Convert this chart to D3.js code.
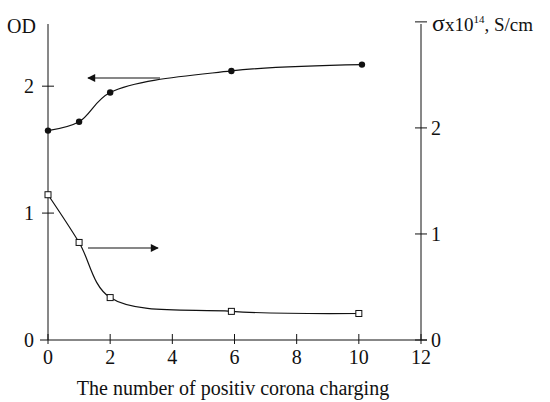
<!DOCTYPE html>
<html>
<head>
<meta charset="utf-8">
<script src="https://cdn.jsdelivr.net/npm/d3@7"></script>
<style>
  body { margin: 0; background: #fff; }
  text { font-family: "Liberation Serif", "Times New Roman", serif; fill: #111; }
</style>
</head>
<body>
<svg id="chart" width="550" height="402"></svg>
<script>
const width = 550;
const height = 402;

// charging count
const charges = [0, 1, 2, 5.9, 10.1];
// optical density (left axis, filled circles)
const odValues = [1.65, 1.72, 1.95, 2.12, 2.17];
// conductivity x1e14 S/cm (right axis, open squares)
const sigmaCharges = [0, 1, 2, 5.9, 10];
const sigmaValues = [1.37, 0.92, 0.40, 0.27, 0.25];

const xTicks = [0, 2, 4, 6, 8, 10, 12];
const odTicks = [0, 1, 2];
const sigmaTicks = [0, 1, 2, 3];

const svg = d3.select("#chart");

const x = d3.scaleLinear().domain([0, 12]).range([48, 421]);
const yL = d3.scaleLinear().domain([0, 2.49]).range([340, 24]);
const yR = d3.scaleLinear().domain([0, 2.98]).range([340, 24]);

const ink = "#111";

// axes lines
svg.append("line").attr("x1", x(0)).attr("x2", x(0)).attr("y1", 24).attr("y2", 340)
  .attr("stroke", ink).attr("stroke-width", 1);
svg.append("line").attr("x1", x(12)).attr("x2", x(12)).attr("y1", 24).attr("y2", 340)
  .attr("stroke", ink).attr("stroke-width", 1);
svg.append("line").attr("x1", x(0) - 8).attr("x2", x(12) + 6).attr("y1", 340).attr("y2", 340)
  .attr("stroke", ink).attr("stroke-width", 1);

// x ticks
svg.append("g").selectAll("line").data(xTicks).join("line")
  .attr("x1", d => x(d)).attr("x2", d => x(d))
  .attr("y1", 334).attr("y2", 344)
  .attr("stroke", ink);
svg.append("g").selectAll("text").data(xTicks).join("text")
  .attr("x", d => x(d)).attr("y", 364)
  .attr("text-anchor", "middle")
  .attr("font-size", 20)
  .text(d => d);

// left ticks
svg.append("g").selectAll("line").data(odTicks.filter(d => d > 0)).join("line")
  .attr("x1", x(0) - 6).attr("x2", x(0) + 6)
  .attr("y1", d => yL(d)).attr("y2", d => yL(d))
  .attr("stroke", ink);
svg.append("g").selectAll("text").data(odTicks).join("text")
  .attr("x", 34).attr("y", d => yL(d) + 7)
  .attr("text-anchor", "end")
  .attr("font-size", 20)
  .text(d => d);

// right ticks
svg.append("g").selectAll("line").data(sigmaTicks).join("line")
  .attr("x1", x(12) - 6).attr("x2", x(12) + 6)
  .attr("y1", d => yR(d)).attr("y2", d => yR(d))
  .attr("stroke", ink);
svg.append("g").selectAll("text").data(sigmaTicks.filter(d => d < 3)).join("text")
  .attr("x", 431).attr("y", d => yR(d) + 7)
  .attr("text-anchor", "start")
  .attr("font-size", 20)
  .text(d => d);

// axis titles
svg.append("text").attr("x", 7).attr("y", 33).attr("font-size", 20).text("OD");
const sig = svg.append("text").attr("x", 432).attr("y", 31).attr("font-size", 19);
sig.append("tspan").attr("font-size", 24).text("σ");
sig.append("tspan").text("x10");
sig.append("tspan").attr("font-size", 11).attr("dy", -8).text("14");
sig.append("tspan").attr("dy", 8).text(", S/cm");

svg.append("text").attr("x", 233).attr("y", 395)
  .attr("text-anchor", "middle").attr("font-size", 20)
  .text("The number of positiv corona charging");

// curves
const odLine = d3.line().x(d => x(d[0])).y(d => yL(d[1])).curve(d3.curveCatmullRom.alpha(0.5));
const sigLine = d3.line().x(d => x(d[0])).y(d => yR(d[1])).curve(d3.curveCatmullRom.alpha(0.5));

const odData = d3.zip(charges, odValues);
const sigData = d3.zip(sigmaCharges, sigmaValues);

svg.append("path").datum(odData).attr("d", odLine)
  .attr("fill", "none").attr("stroke", ink).attr("stroke-width", 1.2);
svg.append("path").datum(sigData).attr("d", sigLine)
  .attr("fill", "none").attr("stroke", ink).attr("stroke-width", 1.2);

svg.append("g").selectAll("circle").data(odData).join("circle")
  .attr("cx", d => x(d[0])).attr("cy", d => yL(d[1])).attr("r", 3.2)
  .attr("fill", ink);
svg.append("g").selectAll("rect").data(sigData).join("rect")
  .attr("x", d => x(d[0]) - 3).attr("y", d => yR(d[1]) - 3)
  .attr("width", 6).attr("height", 6)
  .attr("fill", "#fff").attr("stroke", ink).attr("stroke-width", 1);

// arrows
svg.append("defs").append("marker")
  .attr("id", "head").attr("viewBox", "0 0 10 10")
  .attr("refX", 9).attr("refY", 5)
  .attr("markerWidth", 12).attr("markerHeight", 8)
  .attr("markerUnits", "userSpaceOnUse")
  .attr("orient", "auto")
  .append("path").attr("d", "M0,0L10,5L0,10Z").attr("fill", ink);

svg.append("line").attr("x1", 160).attr("x2", 88).attr("y1", 78).attr("y2", 78)
  .attr("stroke", ink).attr("stroke-width", 1.2).attr("marker-end", "url(#head)");
svg.append("line").attr("x1", 88).attr("x2", 158).attr("y1", 248).attr("y2", 248)
  .attr("stroke", ink).attr("stroke-width", 1.2).attr("marker-end", "url(#head)");
</script>
</body>
</html>
